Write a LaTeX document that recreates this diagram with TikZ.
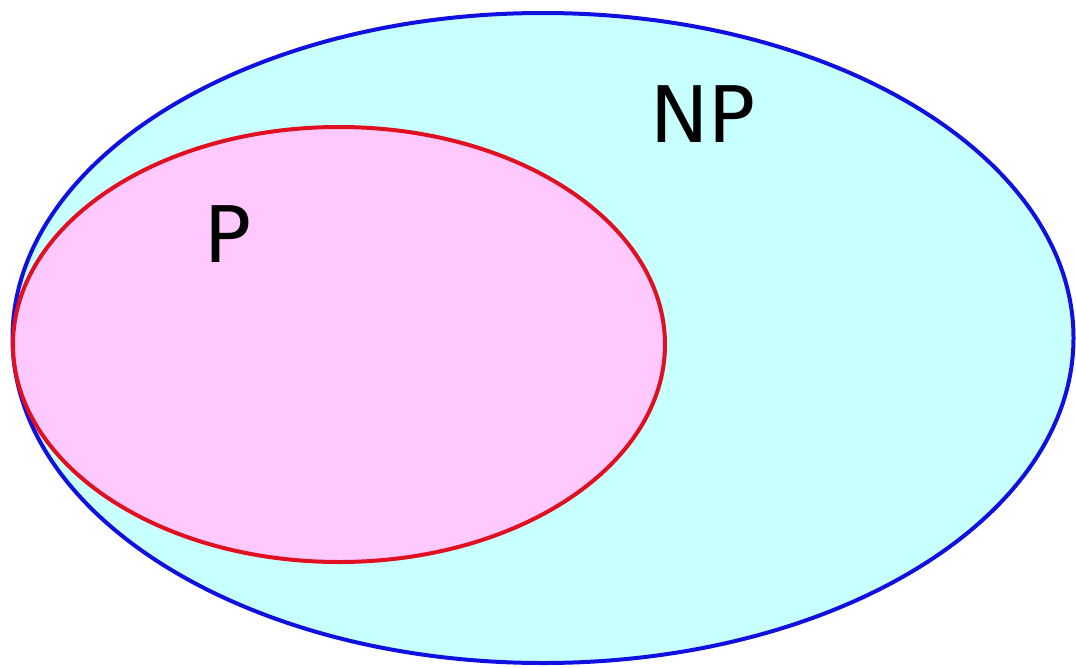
\documentclass[tikz,border=0pt]{standalone}
\usepackage{fontspec}
\setmainfont{DejaVu Sans}
\usetikzlibrary{shapes.geometric}
\definecolor{npfill}{RGB}{200,255,255}
\definecolor{pfill}{RGB}{255,200,255}
\definecolor{npline}{RGB}{16,16,224}
\definecolor{pline}{RGB}{224,16,32}
\tikzset{
  setshape/.style={ellipse, inner sep=0pt, outer sep=0pt, line width=4pt},
  setlabel/.style={inner sep=0pt, font=\fontsize{78}{80}\selectfont, text=black}
}
\begin{document}
\begin{tikzpicture}[x=1pt,y=-1pt]
\useasboundingbox (0,0) rectangle (1076,667);
\node[setshape, draw=npline, fill=npfill, minimum width=1061pt, minimum height=650pt] (NPset) at (543,338) {};
\node[setshape, draw=pline, fill=pfill, minimum width=652pt, minimum height=435pt] (Pset) at (339,344.5) {};
\node[setlabel] (NPlabel) at (703,114) {NP};
\node[setlabel] (Plabel) at (228,234) {P};
\end{tikzpicture}
\end{document}
